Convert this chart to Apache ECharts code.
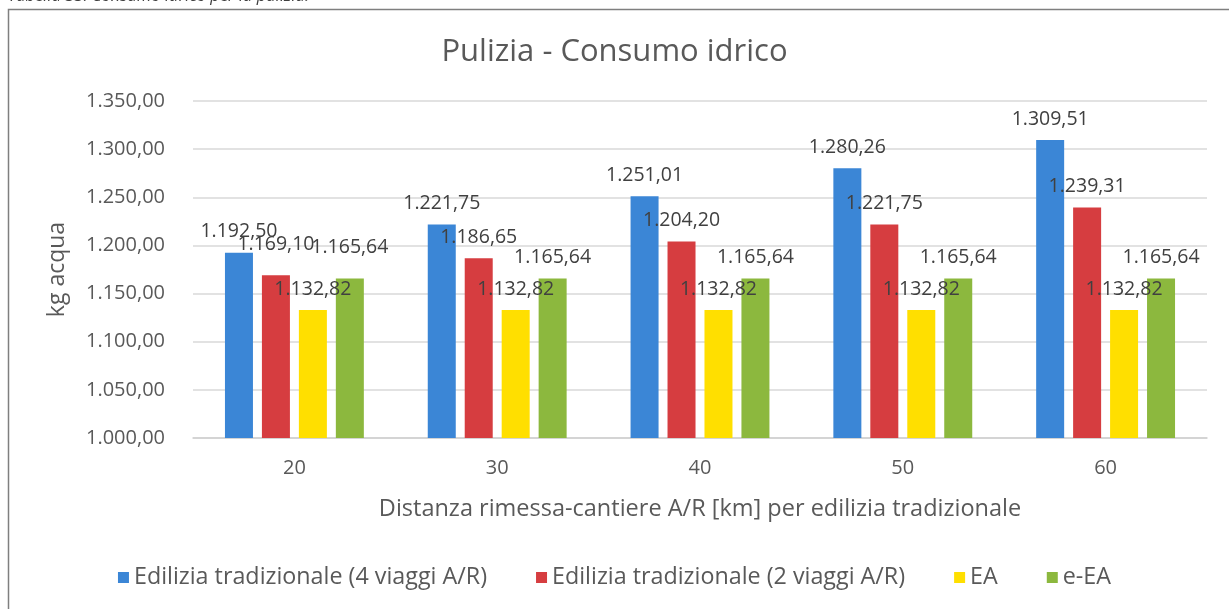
<!DOCTYPE html>
<html>
<head>
<meta charset="utf-8">
<script src="https://cdn.jsdelivr.net/npm/echarts@6/dist/echarts.min.js"></script>
<style>
  html, body { margin: 0; padding: 0; background: #ffffff; }
  #chart { width: 1229px; height: 609px; }
</style>
</head>
<body>
<div id="chart"></div>
<script>
// Distanza rimessa-cantiere (km)
const categories = ['20', '30', '40', '50', '60'];

// kg di acqua per scenario
const tradizionale4 = [1192.50, 1221.75, 1251.01, 1280.26, 1309.51];
const tradizionale2 = [1169.10, 1186.65, 1204.20, 1221.75, 1239.31];
const ea = [1132.82, 1132.82, 1132.82, 1132.82, 1132.82];
const eEa = [1165.64, 1165.64, 1165.64, 1165.64, 1165.64];

const seriesNames = [
  'Edilizia tradizionale (4 viaggi A/R)',
  'Edilizia tradizionale (2 viaggi A/R)',
  'EA',
  'e-EA'
];
const colors = ['#3b86d6', '#d63d40', '#ffdf00', '#8cb83e'];

const yMin = 1000, yMax = 1350, yStep = 50;

const FONT = 'Open Sans';

// formato italiano: 1.192,50
function itNumber(v) {
  const parts = Number(v).toFixed(2).split('.');
  parts[0] = parts[0].replace(/\B(?=(\d{3})+(?!\d))/g, '.');
  return parts[0] + ',' + parts[1];
}

const chart = echarts.init(document.getElementById('chart'), null, { renderer: 'canvas' });

const dataSets = [tradizionale4, tradizionale2, ea, eEa];

// etichette sollevate nel primo gruppo per non sovrapporsi
const liftFirst = [0, 10, 0, 10];

chart.setOption({
  animation: false,
  backgroundColor: '#ffffff',
  textStyle: { fontFamily: FONT },
  title: {
    text: 'Pulizia - Consumo idrico',
    left: 'center',
    top: 32,
    textStyle: { fontFamily: FONT, fontSize: 31, fontWeight: 'normal', color: '#595959' }
  },
  graphic: [
    {
      type: 'rect',
      shape: { x: 8.5, y: 9.5, width: 1300, height: 700 },
      style: { fill: null, stroke: '#7f7f7f', lineWidth: 1.5 },
      silent: true
    },
    {
      type: 'text',
      left: 8,
      top: -12,
      style: {
        text: 'Tabella 33. Consumo idrico per la pulizia.',
        fontFamily: FONT,
        fontSize: 16.5,
        fontStyle: 'italic',
        fill: '#404040'
      },
      silent: true
    }
  ],
  legend: {
    bottom: 15,
    left: 'center',
    itemWidth: 11,
    itemHeight: 11,
    itemGap: 49,
    icon: 'rect',
    textStyle: { fontFamily: FONT, fontSize: 23.3, color: '#595959' },
    data: seriesNames
  },
  grid: { left: 193, right: 22, top: 101, bottom: 171 },
  xAxis: {
    type: 'category',
    data: categories,
    name: 'Distanza rimessa-cantiere A/R [km] per edilizia tradizionale',
    nameLocation: 'middle',
    nameGap: 59,
    nameTextStyle: { fontFamily: FONT, fontSize: 23.5, color: '#595959' },
    axisLine: { lineStyle: { color: '#d0d0d0', width: 1.5 } },
    axisTick: { show: false },
    axisLabel: { margin: 20, fontFamily: FONT, fontSize: 20, color: '#595959' }
  },
  yAxis: {
    type: 'value',
    min: yMin,
    max: yMax,
    interval: yStep,
    name: 'kg acqua',
    nameLocation: 'middle',
    nameGap: 124,
    nameTextStyle: { fontFamily: FONT, fontSize: 23, color: '#595959' },
    axisLine: { show: false },
    axisTick: { show: false },
    splitLine: { lineStyle: { color: '#d9d9d9', width: 1.5 } },
    axisLabel: {
      margin: 28,
      fontFamily: FONT,
      fontSize: 20,
      color: '#595959',
      formatter: v => itNumber(v)
    }
  },
  series: dataSets.map((d, i) => ({
    name: seriesNames[i],
    type: 'bar',
    data: d.map((v, j) => (j === 0 && liftFirst[i])
      ? { value: v, label: { offset: [0, -liftFirst[i]] } }
      : v),
    barWidth: 28,
    barGap: '32%',
    itemStyle: { color: colors[i] },
    label: {
      show: true,
      position: 'top',
      distance: 11,
      fontFamily: FONT,
      fontSize: 19.5,
      color: '#404040',
      formatter: p => itNumber(p.value)
    }
  }))
});
</script>
</body>
</html>
